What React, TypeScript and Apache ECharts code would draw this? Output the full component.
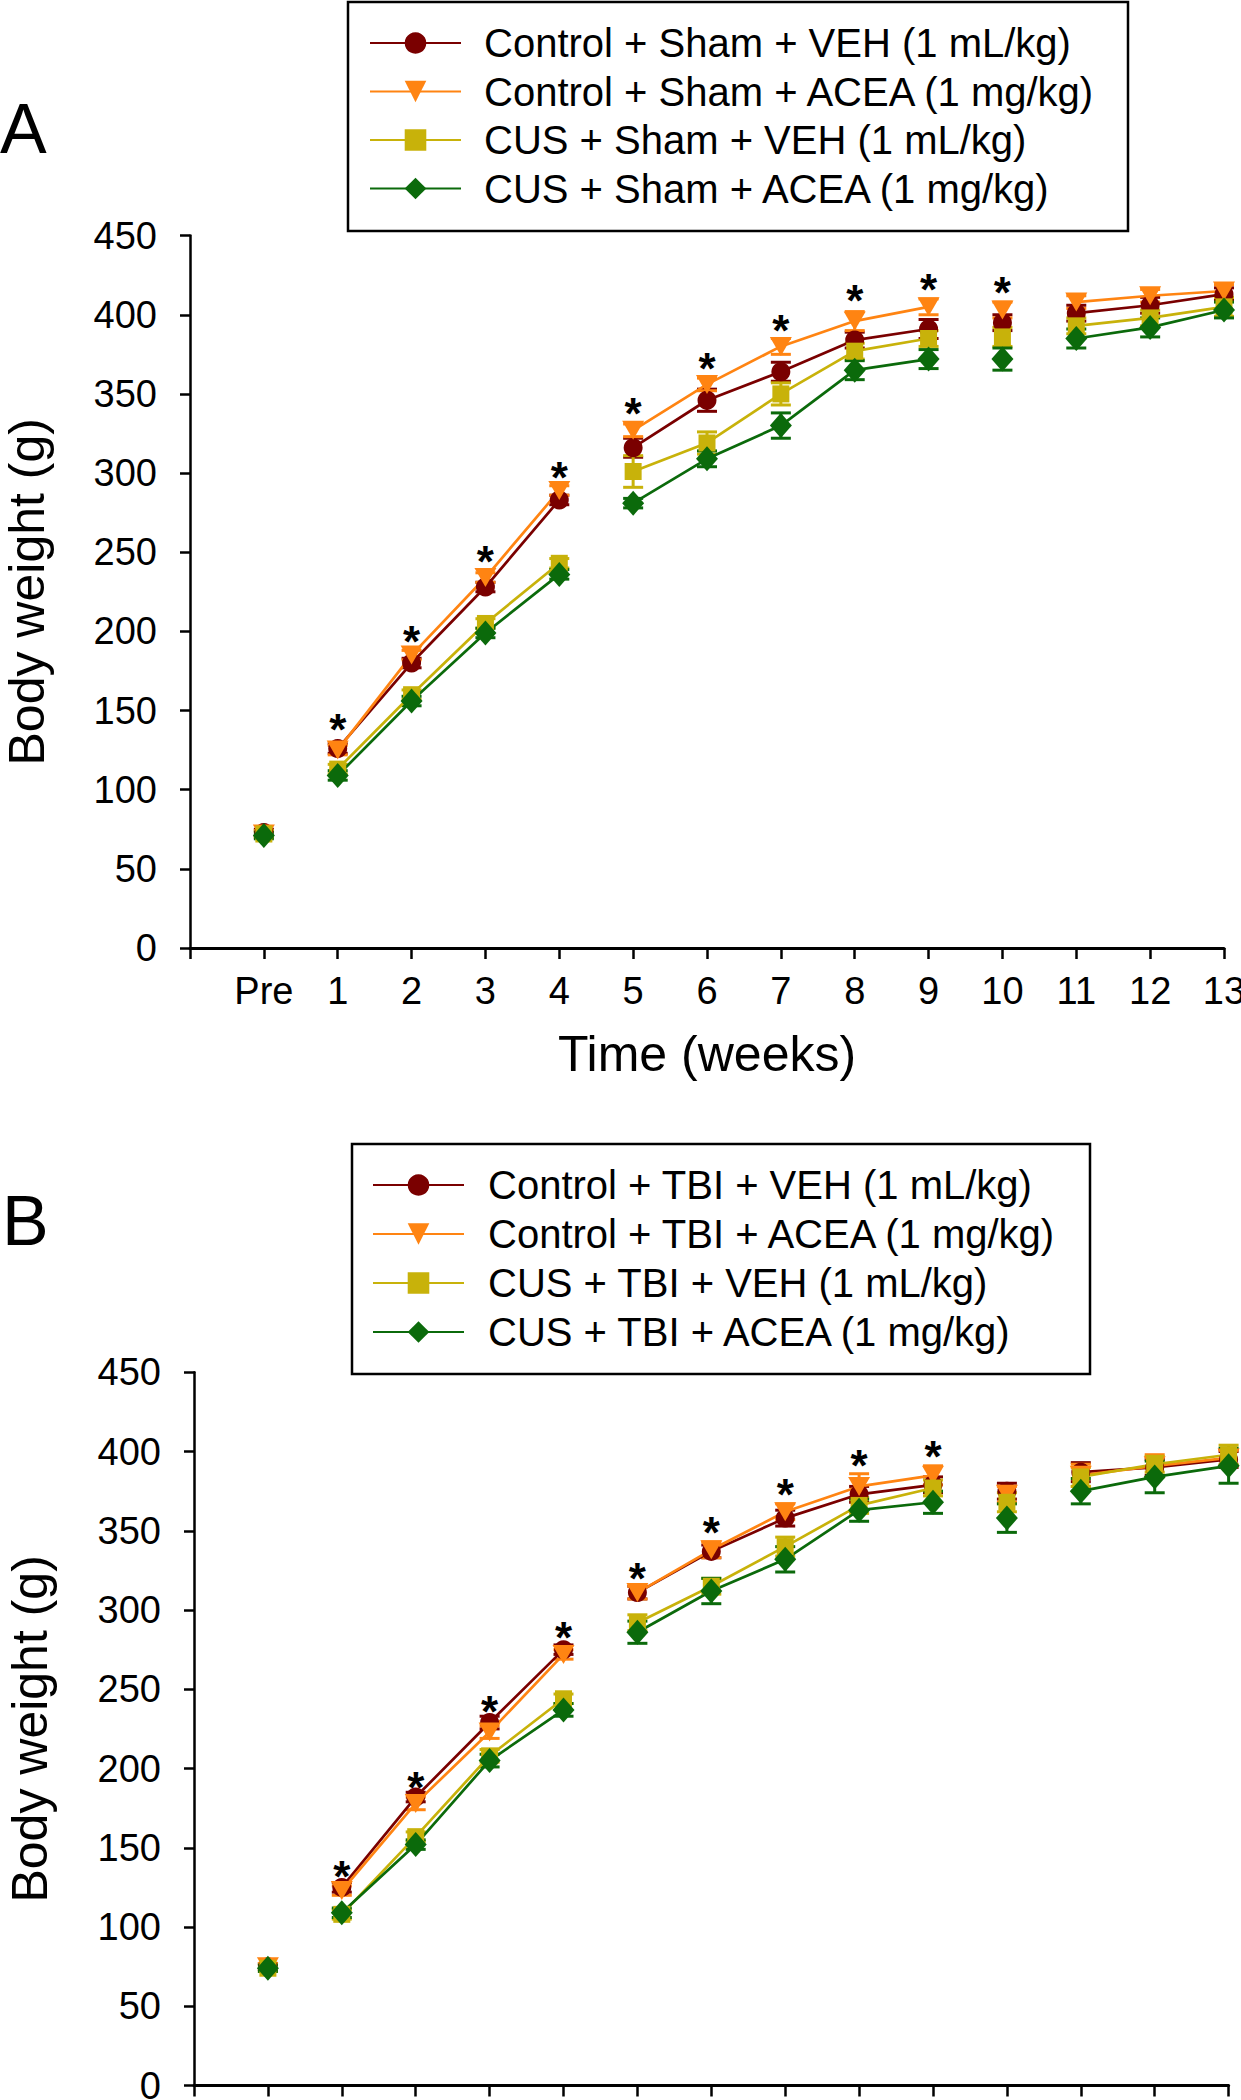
import React, { useEffect, useRef } from 'react';
import * as echarts from 'echarts';

const FONT = '"Liberation Sans", Arial, Helvetica, sans-serif';

// ---------- data ----------
const weekLabels = ['', 'Pre', '1', '2', '3', '4', '5', '6', '7', '8', '9', '10', '11', '12', '13'];
const weeks = [0, 1, 2, 3, 4, 5, 6, 7, 8, 9, 10, 11, 12, 13];
const breaksAfter = [0, 4, 9, 10];

const namesA = [
  'Control + Sham + VEH (1 mL/kg)',
  'Control + Sham + ACEA (1 mg/kg)',
  'CUS + Sham + VEH (1 mL/kg)',
  'CUS + Sham + ACEA (1 mg/kg)',
];
const namesB = [
  'Control + TBI + VEH (1 mL/kg)',
  'Control + TBI + ACEA (1 mg/kg)',
  'CUS + TBI + VEH (1 mL/kg)',
  'CUS + TBI + ACEA (1 mg/kg)',
];

// Panel A means (g)
const aCtrlVeh = [73, 126, 180, 228, 283, 316, 346, 364, 384, 391, 395, 401, 406, 413];
const aCtrlAcea = [72, 125, 185, 234, 289, 327, 356, 380, 396, 405, 403, 408, 412, 415];
const aCusVeh = [72, 113, 160, 205, 243, 301, 319, 350, 377, 385, 386, 393, 398, 405];
const aCusAcea = [71, 109, 156, 199, 236, 281, 309, 330, 365, 372, 372, 385, 392, 403];
// Panel A SEM
const aCtrlVehSem = [2, 3, 3, 3, 3, 6, 7, 6, 5, 6, 5, 5, 5, 4];
const aCtrlAceaSem = [2, 3, 3, 3, 3, 4, 4, 5, 6, 5, 5, 4, 4, 4];
const aCusVehSem = [2, 3, 3, 3, 3, 10, 7, 7, 5, 5, 6, 5, 5, 6];
const aCusAceaSem = [2, 3, 3, 3, 3, 3, 5, 8, 6, 6, 7, 6, 6, 5];

// Panel B means (g)
const bCtrlVeh = [75, 125, 182, 229, 275, 311, 337, 358, 373, 379, 375, 387, 390, 395];
const bCtrlAcea = [75, 123, 178, 223, 272, 311, 338, 362, 378, 385, 373, 385, 391, 396];
const bCusVeh = [74, 108, 157, 208, 244, 292, 315, 340, 366, 377, 368, 384, 392, 398];
const bCusAcea = [74, 109, 152, 205, 237, 286, 312, 332, 363, 368, 358, 375, 384, 391];
// Panel B SEM
const bCtrlVehSem = [2, 3, 3, 4, 3, 4, 4, 5, 5, 5, 5, 6, 5, 5];
const bCtrlAceaSem = [2, 3, 4, 4, 3, 4, 5, 5, 8, 6, 5, 7, 7, 5];
const bCusVehSem = [2, 3, 3, 4, 3, 5, 5, 6, 5, 5, 6, 6, 5, 6];
const bCusAceaSem = [2, 3, 3, 4, 4, 7, 8, 8, 7, 7, 9, 8, 10, 11];

// significance asterisks (week, y position in g)
const starWeeksA = [1, 2, 3, 4, 5, 6, 7, 8, 9, 10];
const starValsA = [144, 200, 250, 303, 344, 372, 396, 415, 422, 420];
const starWeeksB = [1, 2, 3, 4, 5, 6, 7, 8, 9];
const starValsB = [138, 194, 242, 289, 326, 355, 379, 397, 403];

// ---------- styles ----------
const colors = ['#7A0000', '#FF8412', '#C8B20A', '#0B6A0B'];
const symbols = ['circle', 'triangle', 'rect', 'diamond'];
const symbolSizes: any[] = [19, [22, 19], 17, [22, 25]];
const symbolRotates = [0, 180, 0, 0];

function lineData(means: number[]) {
  const out: any[] = [];
  weeks.forEach((w, i) => {
    out.push([w, means[i]]);
    if (breaksAfter.includes(w)) out.push([w + 0.5, '-']);
  });
  return out;
}

function panelSeries(panel: number, names: string[], means: number[][], sems: number[][], starW: number[], starV: number[]) {
  const s: any[] = [];
  names.forEach((name, k) => {
    const color = colors[k];
    s.push({
      type: 'custom',
      name: name + ' SEM',
      xAxisIndex: panel,
      yAxisIndex: panel,
      clip: false,
      encode: { x: 0, y: 1 },
      data: weeks.map((w, i) => [w, means[k][i], sems[k][i]]),
      renderItem: (params: any, api: any) => {
        const x = api.value(0);
        const y = api.value(1);
        const e = api.value(2);
        const top = api.coord([x, y + e]);
        const bot = api.coord([x, y - e]);
        const hw = 10;
        const st = { stroke: color, lineWidth: 3 };
        return {
          type: 'group',
          children: [
            { type: 'line', shape: { x1: top[0], y1: top[1], x2: bot[0], y2: bot[1] }, style: st },
            { type: 'line', shape: { x1: top[0] - hw, y1: top[1], x2: top[0] + hw, y2: top[1] }, style: st },
            { type: 'line', shape: { x1: bot[0] - hw, y1: bot[1], x2: bot[0] + hw, y2: bot[1] }, style: st },
          ],
        };
      },
    });
    s.push({
      type: 'line',
      name,
      xAxisIndex: panel,
      yAxisIndex: panel,
      data: lineData(means[k]),
      connectNulls: false,
      symbol: symbols[k],
      symbolSize: symbolSizes[k],
      symbolRotate: symbolRotates[k],
      showSymbol: true,
      showAllSymbol: true,
      color,
      itemStyle: { color, opacity: 1 },
      lineStyle: { color, width: 2.7 },
      emphasis: { disabled: true },
    });
  });
  const S = 44;
  s.push({
    type: 'custom',
    name: 'stars' + panel,
    xAxisIndex: panel,
    yAxisIndex: panel,
    clip: false,
    encode: { x: 0, y: 1 },
    data: starW.map((w, i) => [w, starV[i]]),
    renderItem: (params: any, api: any) => {
      const p = api.coord([api.value(0), api.value(1)]);
      return {
        type: 'text',
        x: p[0],
        y: p[1] + 0.22 * S,
        style: { text: '*', fontSize: S, fontWeight: 'bold', fontFamily: FONT, fill: '#000', align: 'center', verticalAlign: 'middle' },
      };
    },
  });
  return s;
}

function mkX(idx: number, showLabels: boolean) {
  return {
    type: 'value',
    gridIndex: idx,
    min: -1,
    max: 13,
    interval: 1,
    splitLine: { show: false },
    axisLine: { show: true, onZero: false, lineStyle: { color: '#000', width: 3 } },
    axisTick: { show: true, length: 11, lineStyle: { color: '#000', width: 2.5 } },
    axisLabel: {
      show: showLabels,
      showMinLabel: true,
      showMaxLabel: true,
      margin: 24,
      fontSize: 38,
      color: '#000',
      fontFamily: FONT,
      formatter: (v: number) => weekLabels[Math.round(v) + 1] ?? '',
    },
    name: showLabels ? 'Time (weeks)' : '',
    nameLocation: 'middle',
    nameGap: 81,
    nameTextStyle: { fontSize: 50, color: '#000', fontFamily: FONT },
  };
}

function mkY(idx: number, gap: number) {
  return {
    type: 'value',
    gridIndex: idx,
    min: 0,
    max: 450,
    interval: 50,
    splitLine: { show: false },
    axisLine: { show: true, onZero: false, lineStyle: { color: '#000', width: 2.5 } },
    axisTick: { show: true, length: 10, lineStyle: { color: '#000', width: 2.5 } },
    axisLabel: { margin: 33, fontSize: 38, color: '#000', fontFamily: FONT },
    name: 'Body weight (g)',
    nameLocation: 'middle',
    nameGap: gap,
    nameTextStyle: { fontSize: 50, lineHeight: 50, color: '#000', fontFamily: FONT },
  };
}

function mkLegend(names: string[], left: number, top: number, gap: number, textPad: number) {
  return {
    data: names,
    orient: 'vertical',
    left,
    top,
    padding: 0,
    itemWidth: 91,
    itemHeight: 27,
    itemGap: gap,
    selectedMode: false,
    textStyle: { fontSize: 40, lineHeight: 40, color: '#000', fontFamily: FONT, padding: [0, 0, 0, textPad] },
  };
}

export default function App() {
  const ref = useRef<HTMLDivElement>(null);
  useEffect(() => {
    if (!ref.current) return;
    const chart = echarts.init(ref.current, undefined, { renderer: 'svg' });
    const option: any = {
      animation: false,
      backgroundColor: '#fff',
      textStyle: { fontFamily: FONT },
      grid: [
        { left: 190, top: 235.6, width: 1034, height: 712.4, containLabel: false, outerBoundsMode: 'none' },
        { left: 194, top: 1372.3, width: 1034.6, height: 713.2, containLabel: false, outerBoundsMode: 'none' },
      ],
      xAxis: [mkX(0, true), mkX(1, false)],
      yAxis: [mkY(0, 138), mkY(1, 139)],
      legend: [mkLegend(namesA, 369, 23, 8.5, 18), mkLegend(namesB, 372, 1165, 9, 19)],
      graphic: [
        { type: 'rect', shape: { x: 348, y: 2, width: 780, height: 229 }, style: { fill: 'none', stroke: '#000', lineWidth: 2.5 } },
        { type: 'rect', shape: { x: 352, y: 1144, width: 738, height: 230 }, style: { fill: 'none', stroke: '#000', lineWidth: 2.5 } },
        { type: 'text', x: 0, y: 129, style: { text: 'A', fontSize: 70, fontFamily: FONT, fill: '#000', verticalAlign: 'middle', align: 'left' } },
        { type: 'text', x: 2, y: 1221, style: { text: 'B', fontSize: 70, fontFamily: FONT, fill: '#000', verticalAlign: 'middle', align: 'left' } },
      ],
      series: [
        ...panelSeries(0, namesA, [aCtrlVeh, aCtrlAcea, aCusVeh, aCusAcea], [aCtrlVehSem, aCtrlAceaSem, aCusVehSem, aCusAceaSem], starWeeksA, starValsA),
        ...panelSeries(1, namesB, [bCtrlVeh, bCtrlAcea, bCusVeh, bCusAcea], [bCtrlVehSem, bCtrlAceaSem, bCusVehSem, bCusAceaSem], starWeeksB, starValsB),
      ],
    };
    chart.setOption(option);
    return () => chart.dispose();
  }, []);
  return <div ref={ref} style={{ position: 'absolute', left: 0, top: 0, width: 1241, height: 2100 }} />;
}
